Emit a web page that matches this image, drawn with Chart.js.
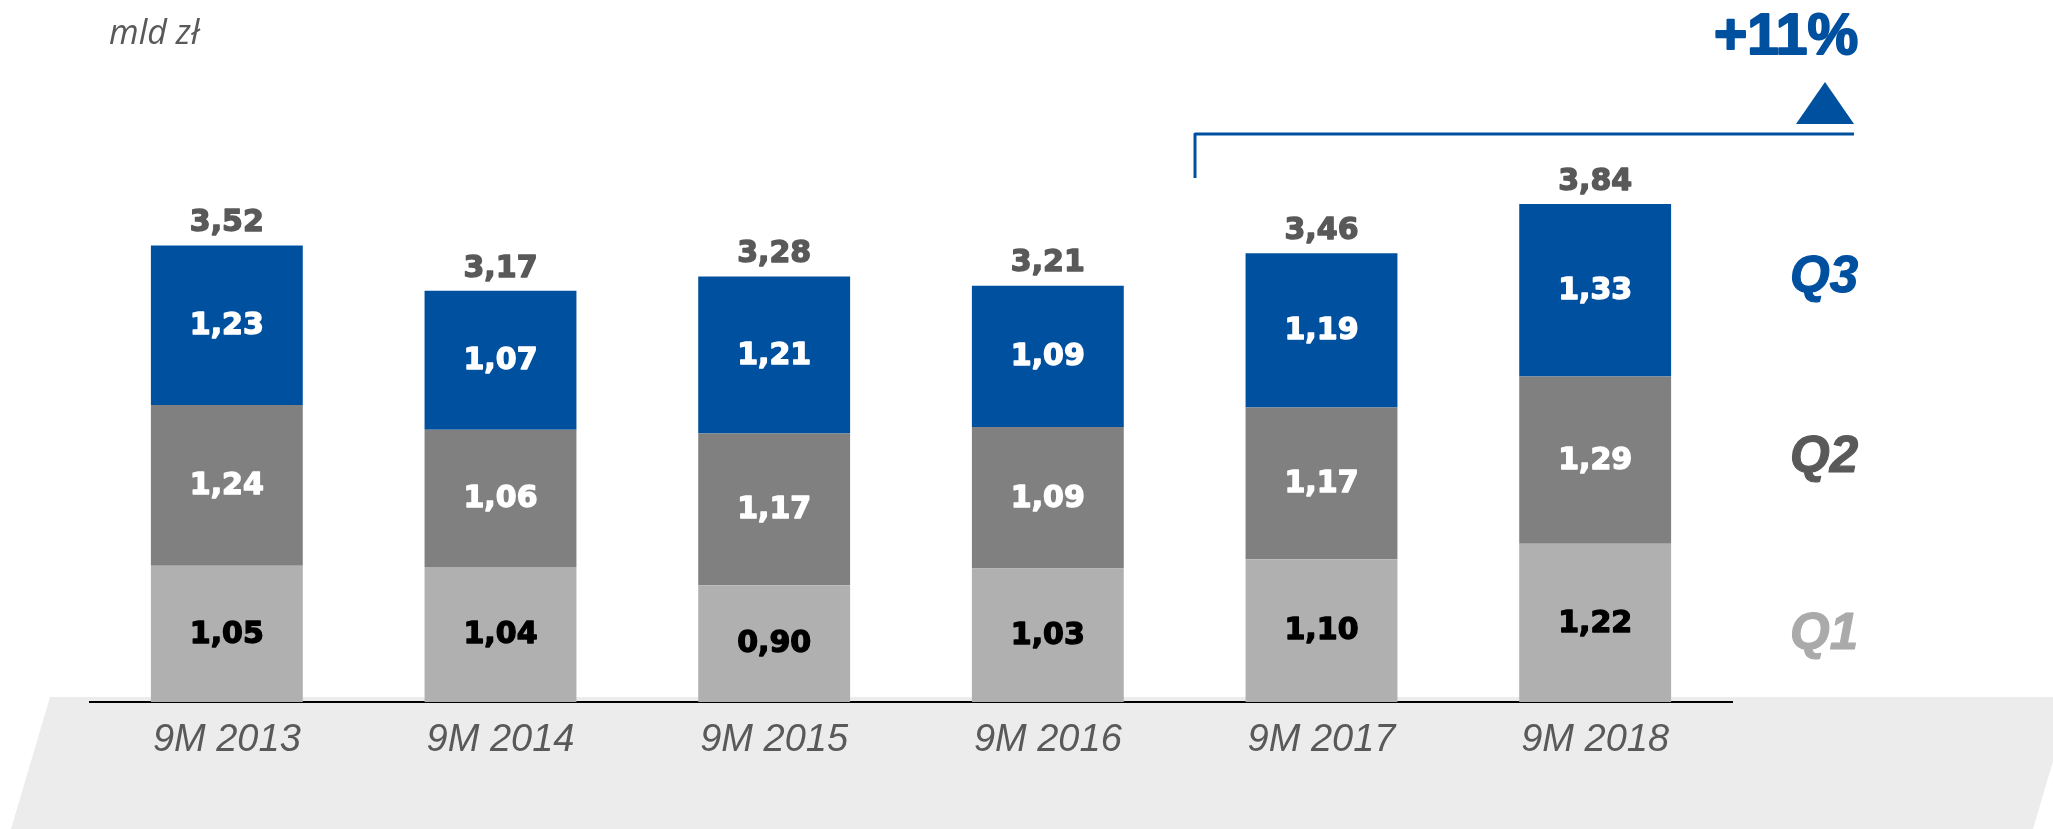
<!DOCTYPE html>
<html>
<head>
<meta charset="utf-8">
<script src="https://cdn.jsdelivr.net/npm/chart.js@4.4.0/dist/chart.umd.min.js"></script>
<style>
  html, body { margin: 0; padding: 0; background: #ffffff; }
  #wrap { width: 2053px; height: 829px; position: relative; }
</style>
</head>
<body>
<div id="wrap"><canvas id="c" width="2053" height="829"></canvas></div>
<script>
// ---- data ----
const categories = ['9M 2013', '9M 2014', '9M 2015', '9M 2016', '9M 2017', '9M 2018'];
const q1Values = [1.05, 1.04, 0.90, 1.03, 1.10, 1.22];
const q2Values = [1.24, 1.06, 1.17, 1.09, 1.17, 1.29];
const q3Values = [1.23, 1.07, 1.21, 1.09, 1.19, 1.33];
const totalValues = [3.52, 3.17, 3.28, 3.21, 3.46, 3.84];
const seriesNames = ['Q1', 'Q2', 'Q3'];
const unitLabel = 'mld zł';
const growthLabel = '+11%';

// ---- styles ----
const BLUE = '#0050a0';
const Q1_COLOR = '#b0b0b0';
const Q2_COLOR = '#808080';
const DARK = '#595959';

function fmt(v) { return v.toFixed(2).replace('.', ','); }

function heavyText(ctx, text, x, y, color, w) {
  ctx.fillStyle = color;
  ctx.strokeStyle = color;
  ctx.lineWidth = w;
  ctx.lineJoin = 'round';
  ctx.strokeText(text, x, y);
  ctx.fillText(text, x, y);
}

const overlay = {
  id: 'overlay',
  beforeDraw(chart) {
    const ctx = chart.ctx;
    ctx.save();
    ctx.fillStyle = '#ececec';
    ctx.beginPath();
    ctx.moveTo(50, 697);
    ctx.lineTo(2072, 697);
    ctx.lineTo(2033, 829);
    ctx.lineTo(11, 829);
    ctx.closePath();
    ctx.fill();
    ctx.restore();
  },
  afterDatasetsDraw(chart) {
    const ctx = chart.ctx;
    ctx.save();
    ctx.textAlign = 'center';
    ctx.textBaseline = 'middle';
    ctx.font = 'bold 30px "DejaVu Sans"';
    const labelColors = ['#000000', '#ffffff', '#ffffff'];
    chart.data.datasets.forEach((ds, i) => {
      const meta = chart.getDatasetMeta(i);
      meta.data.forEach((bar, j) => {
        heavyText(ctx, fmt(ds.data[j]), bar.x, (bar.y + bar.base) / 2 + 1, labelColors[i], 1.4);
      });
    });
    const topMeta = chart.getDatasetMeta(2);
    topMeta.data.forEach((bar, j) => {
      heavyText(ctx, fmt(totalValues[j]), bar.x, bar.y - 22, DARK, 1.4);
    });
    ctx.restore();
  },
  afterDraw(chart) {
    const ctx = chart.ctx;
    ctx.save();
    // unit label
    ctx.fillStyle = DARK;
    ctx.font = 'italic 34px "Open Sans"';
    ctx.textAlign = 'left';
    ctx.textBaseline = 'alphabetic';
    ctx.fillText(unitLabel, 109, 44);
    // series labels on the right
    ctx.textAlign = 'center';
    ctx.textBaseline = 'middle';
    ctx.font = 'bold italic 51px "Liberation Sans"';
    const qColors = [ '#aaaaaa', DARK, BLUE ];
    const qY = [635, 458, 278];
    seriesNames.forEach((n, i) => {
      heavyText(ctx, n, 1824, qY[i], qColors[i], 1.2);
    });
    // growth bracket
    ctx.strokeStyle = BLUE;
    ctx.lineWidth = 3;
    ctx.beginPath();
    ctx.moveTo(1195, 178);
    ctx.lineTo(1195, 134);
    ctx.lineTo(1854, 134);
    ctx.stroke();
    // triangle
    ctx.fillStyle = BLUE;
    ctx.beginPath();
    ctx.moveTo(1825, 82);
    ctx.lineTo(1854, 124);
    ctx.lineTo(1796, 124);
    ctx.closePath();
    ctx.fill();
    // growth text
    ctx.font = 'bold 57px "Liberation Sans"';
    heavyText(ctx, growthLabel, 1786, 38, BLUE, 2);
    ctx.restore();
  }
};

new Chart(document.getElementById('c'), {
  type: 'bar',
  data: {
    labels: categories,
    datasets: [
      { label: seriesNames[0], data: q1Values, backgroundColor: Q1_COLOR },
      { label: seriesNames[1], data: q2Values, backgroundColor: Q2_COLOR },
      { label: seriesNames[2], data: q3Values, backgroundColor: BLUE }
    ]
  },
  options: {
    responsive: false,
    animation: false,
    devicePixelRatio: 1,
    layout: { padding: { left: 90, right: 321, top: 53.5, bottom: 0 } },
    datasets: { bar: { barPercentage: 0.555, categoryPercentage: 1.0, borderWidth: 0 } },
    plugins: { legend: { display: false }, tooltip: { enabled: false } },
    scales: {
      x: {
        stacked: true,
        grid: { display: false, drawTicks: false },
        border: { display: true, color: '#000000', width: 2 },
        ticks: {
          color: DARK,
          font: { family: '"Liberation Sans"', size: 38, style: 'italic' },
          padding: 16
        },
        afterFit(scale) { scale.height = 127; }
      },
      y: {
        stacked: true,
        display: false,
        min: 0,
        max: 5
      }
    }
  },
  plugins: [overlay]
});
</script>
</body>
</html>
